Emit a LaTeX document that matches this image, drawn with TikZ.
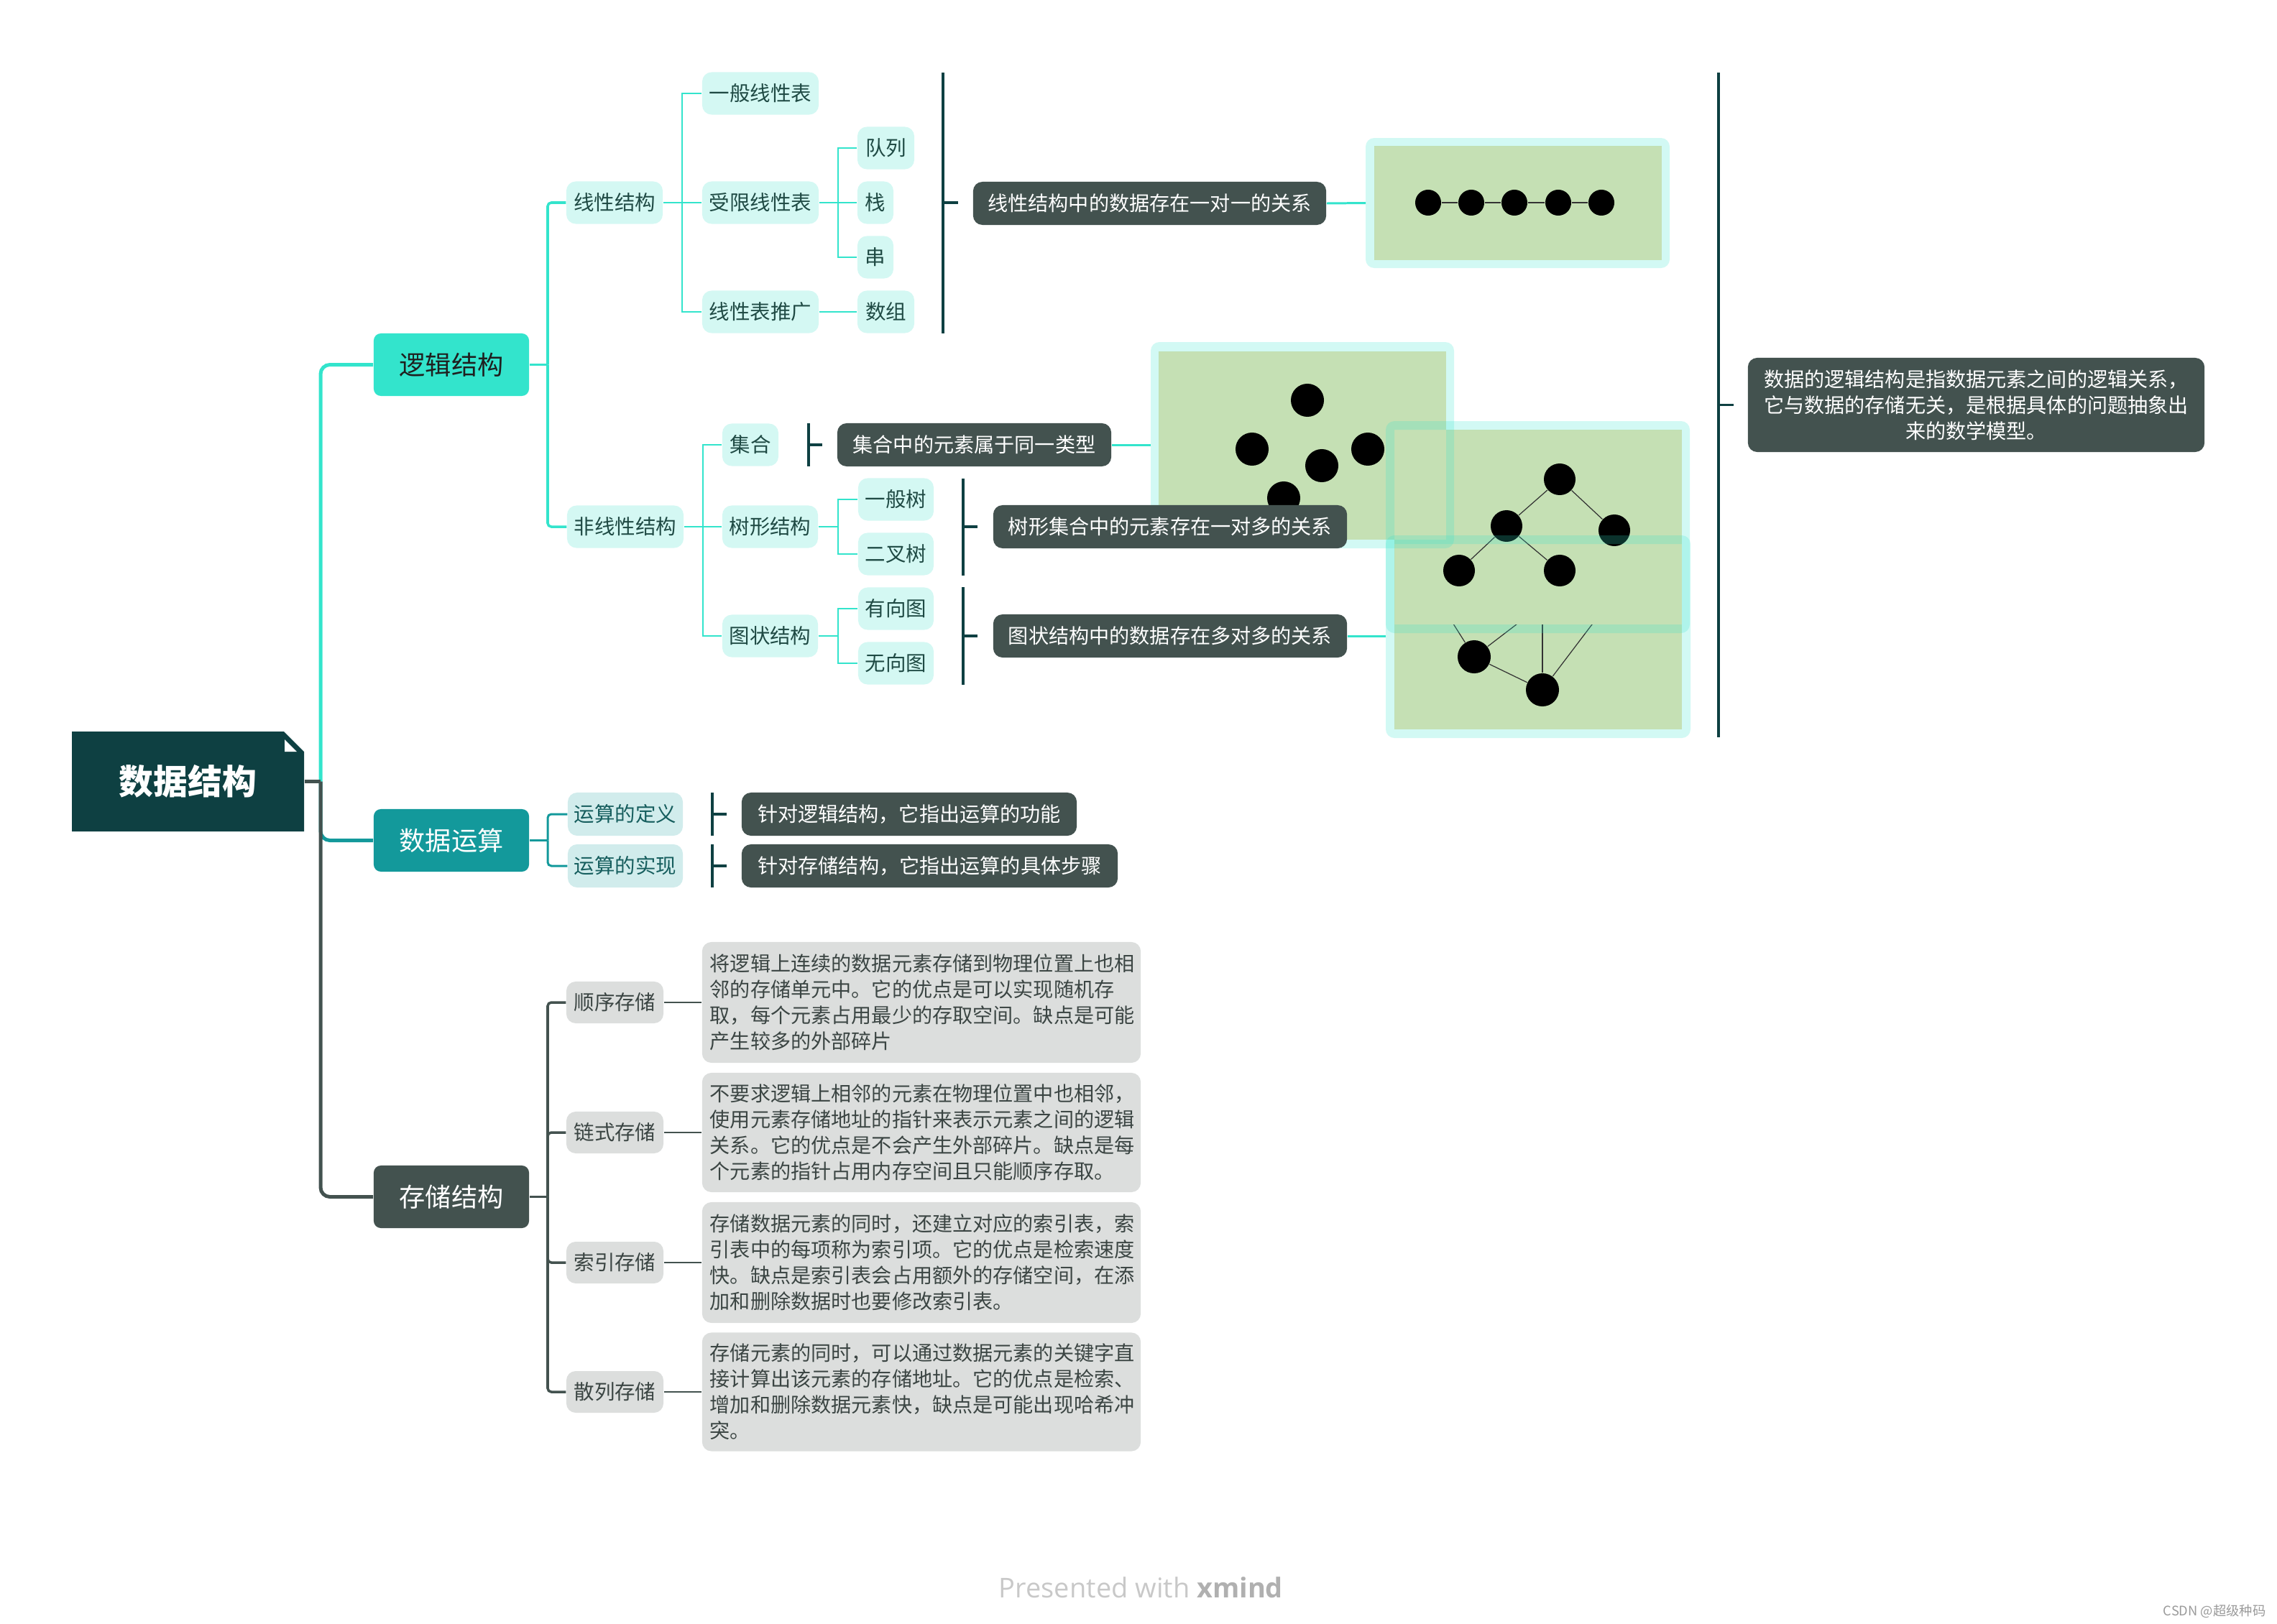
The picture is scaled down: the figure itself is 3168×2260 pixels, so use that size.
\documentclass[tikz,border=0pt]{standalone}
\usepackage{fontspec}
\setmainfont{Noto Sans CJK SC}
\newfontfamily\footfont{Open Sans}
\definecolor{turq}{HTML}{33E4CC}
\definecolor{tealc}{HTML}{13999B}
\definecolor{dgray}{HTML}{43524F}
\definecolor{rootc}{HTML}{0E4042}
\definecolor{lcyan}{HTML}{D4F8F3}
\definecolor{lteal}{HTML}{D1ECEC}
\definecolor{lgray}{HTML}{DCDEDD}
\definecolor{imggreen}{HTML}{C5E0B4}
\definecolor{ltext}{HTML}{1F4A44}
\definecolor{otext}{HTML}{165E5E}
\definecolor{stext}{HTML}{3B4543}
\definecolor{footg}{HTML}{C8C8C8}
\definecolor{footb}{HTML}{B0B0B0}
\definecolor{wmark}{HTML}{9A9A9A}
\begin{document}
\begin{tikzpicture}[x=0.01cm,y=-0.01cm,
  box/.style={inner sep=0pt, align=center, rounded corners=0.1cm},
  topic/.style={box, minimum width=2.16cm, minimum height=0.87cm, font=\fontsize{10.3}{12}\selectfont},
  sub/.style={box, rounded corners=0.13cm, minimum height=0.59cm, font=\fontsize{8.1}{10}\selectfont},
  lsub/.style={sub, fill=lcyan, text=ltext},
  osub/.style={sub, fill=lteal, text=otext, minimum height=0.6cm},
  ssub/.style={sub, fill=lgray, text=stext, minimum height=0.58cm},
  summ/.style={box, rounded corners=0.13cm, fill=dgray, text=white, minimum height=0.6cm, font=\fontsize{8}{10.24}\selectfont},
  desc/.style={box, rounded corners=0.13cm, fill=lgray, text=stext, align=left, font=\fontsize{8}{10.24}\selectfont, minimum width=6.1cm, text width=5.88cm},
  mainl/.style={line width=1.42pt, rounded corners=0.13cm},
  lvltwo/.style={line width=1pt, rounded corners=0.05cm},
  lvlthree/.style={line width=0.7pt},
  brk/.style={line width=1.1pt, draw=rootc},
  imgl/.style={line width=0.85pt, draw=turq},
  dot/.style={circle, fill=black, inner sep=0pt},
  ring/.style={fill=turq, fill opacity=0.22, even odd rule},
  dedge/.style={line width=0.35pt, draw=black!80}
]
\useasboundingbox (0,0) rectangle (3168,2260);

% ---------- images ----------
% linear
\fill[imggreen] (1912,203) rectangle (2312,362);
\foreach \i/\x in {1/1987,2/2047,3/2107,4/2168,5/2228}
  \node[dot, minimum size=0.36cm] (la\i) at (\x,282) {};
\foreach \a/\b in {1/2,2/3,3/4,4/5} \draw[dedge] (la\a) -- (la\b);
% set
\fill[imggreen] (1612,489) rectangle (2012,751);
\node[dot, minimum size=0.46cm] (sa1) at (1819,557) {};
\node[dot, minimum size=0.46cm] (sa2) at (1742,625) {};
\node[dot, minimum size=0.46cm] (sa3) at (1839,648) {};
\node[dot, minimum size=0.46cm] (sa4) at (1903,625) {};
\node[dot, minimum size=0.46cm] (sa5) at (1786,693) {};
% graph
\fill[imggreen] (1940,757) rectangle (2340,1015);
\node[dot, minimum size=0.46cm] (gA) at (2051,914) {};
\node[dot, minimum size=0.46cm] (gB) at (2146,960) {};
\coordinate (gh1) at (2020,865);
\coordinate (gh2) at (2115,865);
\coordinate (gh3) at (2146,865);
\coordinate (gh4) at (2218,865);
\draw[dedge] (gA) -- (gh1);
\draw[dedge] (gA) -- (gh2);
\draw[dedge] (gB) -- (gh3);
\draw[dedge] (gB) -- (gh4);
\draw[dedge] (gA) -- (gB);
% tree
\fill[imggreen] (1940,598) rectangle (2340,869);
\node[dot, minimum size=0.44cm] (t1) at (2170,667) {};
\node[dot, minimum size=0.44cm] (t2) at (2096,732) {};
\node[dot, minimum size=0.44cm] (t3) at (2246,738) {};
\node[dot, minimum size=0.44cm] (t4) at (2030,794) {};
\node[dot, minimum size=0.44cm] (t5) at (2170,794) {};
\draw[dedge] (t1) -- (t2);
\draw[dedge] (t1) -- (t3);
\draw[dedge] (t2) -- (t4);
\draw[dedge] (t2) -- (t5);
% rings
\fill[ring, rounded corners=0.12cm] (1900,192) rectangle (2323,373) [sharp corners] (1912,203) rectangle (2312,362);
\fill[ring, rounded corners=0.12cm] (1601,476) rectangle (2023,763) [sharp corners] (1612,489) rectangle (2012,751);
\fill[ring, rounded corners=0.12cm] (1928,745) rectangle (2352,1027) [sharp corners] (1940,757) rectangle (2340,1015);
\fill[ring, rounded corners=0.12cm] (1928,586) rectangle (2351,881) [sharp corners] (1940,598) rectangle (2340,869);
\coordinate (im1) at (1900,282.5);
\coordinate (im2) at (1601,619);
\coordinate (im4) at (1928,885);

% ---------- root ----------
\fill[rootc] (100,1018) -- (395,1018) -- (423,1046) -- (423,1157) -- (100,1157) -- cycle;
\fill[white] (396,1029) -- (396,1046) -- (413,1046) -- cycle;
\node[inner sep=0pt, minimum width=3.23cm, minimum height=1.39cm, text=white,
  font=\fontsize{13.6}{15}\selectfont\bfseries] (root) at (261.5,1087.5) {数据结构};

% ---------- level 1 ----------
\node[topic, fill=turq, text=black!88] (L1) at (628,507.5) {逻辑结构};
\node[topic, fill=tealc, text=white] (L2) at (628,1169.5) {数据运算};
\node[topic, fill=dgray, text=white] (L3) at (628,1665.5) {存储结构};

% ---------- logic subtree ----------
\node[lsub, minimum width=1.34cm] (lin) at (855,282) {线性结构};
\node[lsub, minimum width=1.62cm] (nlin) at (870,733) {非线性结构};
\node[lsub, minimum width=1.62cm] (a1) at (1058,130) {一般线性表};
\node[lsub, minimum width=1.62cm] (a2) at (1058,282) {受限线性表};
\node[lsub, minimum width=1.62cm] (a3) at (1058,434) {线性表推广};
\node[lsub, minimum width=0.79cm] (q1) at (1232.5,206) {队列};
\node[lsub, minimum width=0.50cm] (q2) at (1218,282) {栈};
\node[lsub, minimum width=0.50cm] (q3) at (1218,358) {串};
\node[lsub, minimum width=0.79cm] (q4) at (1232.5,434) {数组};
\node[lsub, minimum width=0.78cm] (n1) at (1044,619) {集合};
\node[lsub, minimum width=1.33cm] (n2) at (1071.5,733) {树形结构};
\node[lsub, minimum width=1.33cm] (n3) at (1071.5,885) {图状结构};
\node[lsub, minimum width=1.05cm] (m1) at (1246.5,695) {一般树};
\node[lsub, minimum width=1.05cm] (m2) at (1246.5,771) {二叉树};
\node[lsub, minimum width=1.05cm] (m3) at (1246.5,847) {有向图};
\node[lsub, minimum width=1.05cm] (m4) at (1246.5,923) {无向图};

\node[summ, minimum width=4.91cm] (S1) at (1599.5,283) {线性结构中的数据存在一对一的关系};
\node[summ, minimum width=3.81cm] (S2) at (1355.5,619) {集合中的元素属于同一类型};
\node[summ, minimum width=4.92cm] (S3) at (1628,733) {树形集合中的元素存在一对多的关系};
\node[summ, minimum width=4.92cm] (S4) at (1628,885) {图状结构中的数据存在多对多的关系};
\node[summ, minimum width=6.35cm, minimum height=1.31cm] (S7) at (2749.5,563.5)
  {数据的逻辑结构是指数据元素之间的逻辑关系，\\它与数据的存储无关，是根据具体的问题抽象出\\来的数学模型。};

% ---------- operations subtree ----------
\node[osub, minimum width=1.60cm] (o1) at (870,1133) {运算的定义};
\node[osub, minimum width=1.60cm] (o2) at (870,1205) {运算的实现};
\node[summ, minimum width=4.66cm] (S5) at (1265,1133) {针对逻辑结构，它指出运算的功能};
\node[summ, minimum width=5.23cm] (S6) at (1293.5,1205) {针对存储结构，它指出运算的具体步骤};

% ---------- storage subtree ----------
\node[ssub, minimum width=1.35cm] (s1) at (855.5,1395) {顺序存储};
\node[ssub, minimum width=1.35cm] (s2) at (855.5,1576) {链式存储};
\node[ssub, minimum width=1.35cm] (s3) at (855.5,1757) {索引存储};
\node[ssub, minimum width=1.35cm] (s4) at (855.5,1937) {散列存储};
\node[desc, minimum height=1.68cm] (b1) at (1282,1395) {将逻辑上连续的数据元素存储到物理位置上也相\\邻的存储单元中。它的优点是可以实现随机存\\取，每个元素占用最少的存取空间。缺点是可能\\产生较多的外部碎片};
\node[desc, minimum height=1.66cm] (b2) at (1282,1576) {不要求逻辑上相邻的元素在物理位置中也相邻，\\使用元素存储地址的指针来表示元素之间的逻辑\\关系。它的优点是不会产生外部碎片。缺点是每\\个元素的指针占用内存空间且只能顺序存取。};
\node[desc, minimum height=1.68cm] (b3) at (1282,1757) {存储数据元素的同时，还建立对应的索引表，索\\引表中的每项称为索引项。它的优点是检索速度\\快。缺点是索引表会占用额外的存储空间，在添\\加和删除数据时也要修改索引表。};
\node[desc, minimum height=1.65cm] (b4) at (1282,1937) {存储元素的同时，可以通过数据元素的关键字直\\接计算出该元素的存储地址。它的优点是检索、\\增加和删除数据元素快，缺点是可能出现哈希冲\\突。};

% ---------- main branches ----------
\coordinate (J) at (446,1087.5);
\draw[mainl, draw=turq] (J) |- (L1.west);
\draw[mainl, draw=tealc] (J) |- (L2.west);
\draw[mainl, draw=dgray] (J) |- (L3.west);
\draw[line width=1.42pt, draw=dgray] (root.east) -- (J);

% level 2 connectors
\coordinate (K1) at (762,507.5);
\draw[lvltwo, draw=turq] (L1.east) -- (K1);
\draw[lvltwo, draw=turq] (K1) |- (lin.west);
\draw[lvltwo, draw=turq] (K1) |- (nlin.west);
\coordinate (K2) at (762,1169.5);
\draw[lvltwo, draw=tealc, line width=0.85pt] (L2.east) -- (K2);
\draw[lvltwo, draw=tealc, line width=0.85pt] (K2) |- (o1.west);
\draw[lvltwo, draw=tealc, line width=0.85pt] (K2) |- (o2.west);
\coordinate (K3) at (762,1665.5);
\draw[lvltwo, draw=dgray] (L3.east) -- (K3);
\foreach \n in {s1,s2,s3,s4} \draw[lvltwo, draw=dgray] (K3) |- (\n.west);
\foreach \i in {1,2,3,4} \draw[line width=0.55pt, draw=dgray] (s\i.east) -- (b\i.west);

% level 3 connectors
\coordinate (K4) at (949,282);
\draw[lvlthree, draw=turq] (lin.east) -- (K4);
\foreach \n in {a1,a2,a3} \draw[lvlthree, draw=turq] (K4) |- (\n.west);
\coordinate (K5) at (1166,282);
\draw[lvlthree, draw=turq] (a2.east) -- (K5);
\foreach \n in {q1,q2,q3} \draw[lvlthree, draw=turq] (K5) |- (\n.west);
\draw[lvlthree, draw=turq] (a3.east) -- (q4.west);
\coordinate (K6) at (978,733);
\draw[lvlthree, draw=turq] (nlin.east) -- (K6);
\foreach \n in {n1,n2,n3} \draw[lvlthree, draw=turq] (K6) |- (\n.west);
\coordinate (K7) at (1166,733);
\draw[lvlthree, draw=turq] (n2.east) -- (K7);
\foreach \n in {m1,m2} \draw[lvlthree, draw=turq] (K7) |- (\n.west);
\coordinate (K8) at (1166,885);
\draw[lvlthree, draw=turq] (n3.east) -- (K8);
\foreach \n in {m3,m4} \draw[lvlthree, draw=turq] (K8) |- (\n.west);

% summary brackets
\coordinate (B1t) at (1312,101); \coordinate (B1b) at (1312,464);
\coordinate (B1m) at (1312,282); \coordinate (B1e) at (1333,282);
\draw[brk] (B1t) -- (B1b); \draw[brk] (B1m) -- (B1e);
\coordinate (B2t) at (1125,589); \coordinate (B2b) at (1125,649);
\coordinate (B2m) at (1125,619); \coordinate (B2e) at (1144,619);
\draw[brk] (B2t) -- (B2b); \draw[brk] (B2m) -- (B2e);
\coordinate (B3t) at (1340,666); \coordinate (B3b) at (1340,801);
\coordinate (B3m) at (1340,733); \coordinate (B3e) at (1360,733);
\draw[brk] (B3t) -- (B3b); \draw[brk] (B3m) -- (B3e);
\coordinate (B4t) at (1340,817); \coordinate (B4b) at (1340,953);
\coordinate (B4m) at (1340,885); \coordinate (B4e) at (1360,885);
\draw[brk] (B4t) -- (B4b); \draw[brk] (B4m) -- (B4e);
\coordinate (B5t) at (991,1103); \coordinate (B5b) at (991,1163);
\coordinate (B5m) at (991,1133); \coordinate (B5e) at (1011,1133);
\draw[brk] (B5t) -- (B5b); \draw[brk] (B5m) -- (B5e);
\coordinate (B6t) at (991,1175); \coordinate (B6b) at (991,1235);
\coordinate (B6m) at (991,1205); \coordinate (B6e) at (1011,1205);
\draw[brk] (B6t) -- (B6b); \draw[brk] (B6m) -- (B6e);
\coordinate (B7t) at (2391,101); \coordinate (B7b) at (2391,1026);
\coordinate (B7m) at (2391,563.5); \coordinate (B7e) at (2412,563.5);
\draw[brk] (B7t) -- (B7b); \draw[brk] (B7m) -- (B7e);

% summary -> image
\draw[imgl] (S1.east) -- (im1);
\draw[imgl] (S2.east) -- (im2);
\draw[imgl] (S4.east) -- (im4);

% footer
\node[anchor=base, inner sep=0pt, text=footg, font=\footfont\fontsize{10.8}{12}\selectfont] (foot) at (1587.5,2223) {Presented with \textcolor{footb}{\bfseries xmind}};
\node[anchor=east, inner sep=0pt, text=wmark, font=\fontsize{5.2}{6}\selectfont] (wm) at (3153,2242) {CSDN @超级种码};
\end{tikzpicture}
\end{document}
